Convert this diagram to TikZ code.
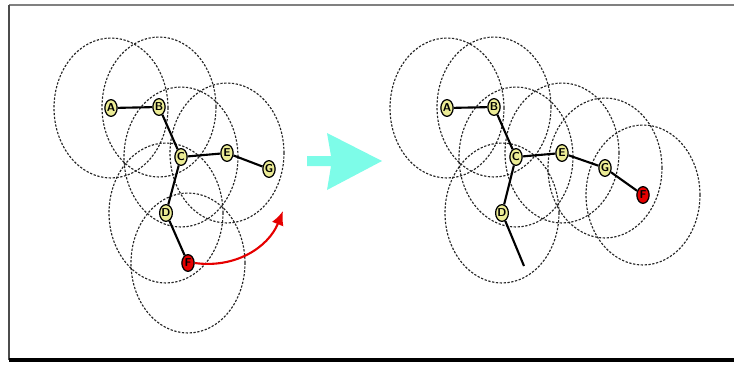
\documentclass[tikz,border=0pt]{standalone}
\usetikzlibrary{shapes.geometric,arrows.meta}
\definecolor{nodeyellow}{RGB}{236,236,150}
\definecolor{movedred}{RGB}{230,0,0}
\definecolor{arrowcyan}{RGB}{125,252,232}
\pgfdeclarelayer{bg}
\pgfsetlayers{bg,main}
\tikzset{
  sensor/.style={ellipse, draw, line width=0.7pt, fill=nodeyellow, minimum width=7pt, minimum height=9.5pt, inner sep=0pt, font=\fontsize{6.5}{6.5}\selectfont\sffamily\bfseries},
  moved/.style={sensor, fill=movedred},
  radiorange/.style={draw=black!85, line width=0.65pt, dash pattern=on 1.3pt off 0.9pt},
  link/.style={line width=1.2pt}
}
\begin{document}
\begin{tikzpicture}[x=0.02cm, y=-0.02cm]
  \useasboundingbox (0,0) rectangle (734,365);
  % frame
  \draw[black!50, line width=1.3pt] (9,5) -- (734,5);
  \draw[black!70, line width=0.8pt] (9,5) -- (9,360);
  \draw[black, line width=1.8pt] (9,360) -- (734,360);
  % left network, before the move
  \node[sensor] (a1) at (111,108) {A};
  \node[sensor] (b1) at (159,107) {B};
  \node[sensor] (c1) at (181,157) {C};
  \node[sensor] (e1) at (227,153) {E};
  \node[sensor] (g1) at (269,169) {G};
  \node[sensor] (d1) at (166,213) {D};
  \node[moved] (f1) at (188,263) {F};
  % right network, after the move
  \node[sensor] (a2) at (447,108) {A};
  \node[sensor] (b2) at (494,107) {B};
  \node[sensor] (c2) at (516,157) {C};
  \node[sensor] (e2) at (562,153) {E};
  \node[sensor] (g2) at (605,168) {G};
  \node[sensor] (d2) at (502,213) {D};
  \node[moved] (f2) at (643,195) {F};
  \coordinate (d2end) at (524,266);
  \begin{pgfonlayer}{bg}
    % communication ranges
    \foreach \n in {a1,b1,c1,e1,d1,f1,a2,b2,c2,e2,g2,d2,f2}
      \draw[radiorange] (\n) ellipse [x radius=1.14cm, y radius=1.4cm];
    % links
    \draw[link] (a1) -- (b1) -- (c1) -- (e1) -- (g1);
    \draw[link] (c1) -- (d1) -- (f1);
    \draw[link] (a2) -- (b2) -- (c2) -- (e2) -- (g2) -- (f2);
    \draw[link] (c2) -- (d2) -- (d2end);
  \end{pgfonlayer}
  % move of F
  \coordinate (tip) at (283,211);
  \draw[movedred, line width=1.2pt, -{Latex[length=8pt, width=7pt]}] (f1.east) to[out=-8, in=-112] (tip);
  % big arrow
  \fill[arrowcyan] (307,156) -- (331,156) -- (327,133) -- (382,161) -- (327,190) -- (331,166) -- (307,166) -- cycle;
\end{tikzpicture}
\end{document}
